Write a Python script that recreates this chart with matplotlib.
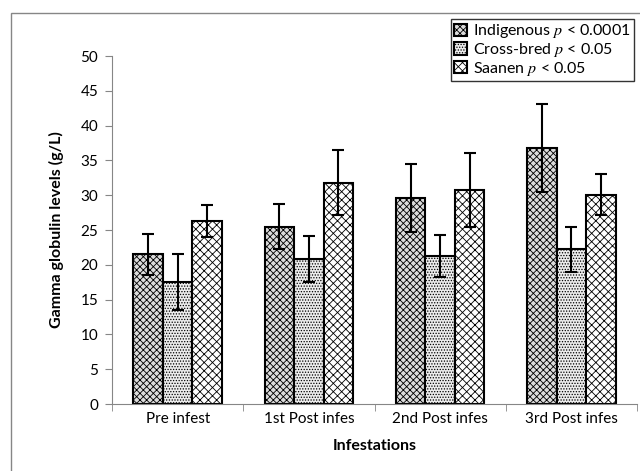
import matplotlib.pyplot as plt
import numpy as np
from matplotlib.patches import Rectangle

plt.rcParams["font.family"] = ["Lato", "DejaVu Sans"]
plt.rcParams["mathtext.fontset"] = "stix"
plt.rcParams["hatch.linewidth"] = 0.6

categories = ["Pre infest", "1st Post infes", "2nd Post infes", "3rd Post infes"]
series = ["Indigenous", "Cross-bred", "Saanen"]
p_values = ["0.0001", "0.05", "0.05"]

indigenous = [21.5, 25.5, 29.6, 36.8]
indigenous_err = [2.9, 3.2, 4.9, 6.3]
crossbred = [17.5, 20.8, 21.3, 22.2]
crossbred_err = [4.0, 3.3, 3.0, 3.2]
saanen = [26.3, 31.8, 30.7, 30.1]
saanen_err = [2.3, 4.7, 5.3, 2.9]

values = [indigenous, crossbred, saanen]
errors = [indigenous_err, crossbred_err, saanen_err]
hatches = ["xxxxx", "......", "xxxx"]
fills = ["#dcdcdc", "#ececec", "white"]


def plot_bars():
    fig = plt.figure(figsize=(6.4, 4.71), dpi=100)
    ax = fig.add_axes([112 / 640, 1 - 404 / 471, 525 / 640, 348 / 471])

    # outer chart frame
    fig.patches.append(Rectangle((11 / 640, -0.1), 1.2, 1.1 - 13 / 471,
                                 transform=fig.transFigure, fill=False,
                                 edgecolor="#868686", linewidth=1.0))

    x = np.arange(len(categories))
    width = 0.225
    for i, (vals, errs) in enumerate(zip(values, errors)):
        ax.bar(x + (i - 1) * width, vals, width, yerr=errs, color=fills[i],
               edgecolor="black", linewidth=1.5, hatch=hatches[i],
               error_kw=dict(ecolor="black", elinewidth=1.5, capsize=4, capthick=1.5),
               label=f"{series[i]} $p$ < {p_values[i]}", zorder=2)

    ax.set_xlim(-0.5, len(categories) - 0.5)
    ax.set_ylim(0, 50)
    ax.set_yticks(range(0, 51, 5))
    ax.set_xticks(x)
    ax.set_xticklabels(categories)
    ax.set_xticks(np.arange(-0.5, len(categories), 1.0), minor=True)
    ax.tick_params(axis="x", which="major", length=0, labelsize=11, pad=6)
    ax.tick_params(axis="x", which="minor", length=5, color="#868686", direction="out")
    ax.tick_params(axis="y", length=5, color="#868686", labelsize=11, pad=5)

    for side in ["top", "right"]:
        ax.spines[side].set_visible(False)
    for side in ["left", "bottom"]:
        ax.spines[side].set_color("#868686")

    ax.set_xlabel("Infestations", fontsize=11.5, fontweight="bold", labelpad=9)
    ax.set_ylabel("Gamma globulin levels (g/L)", fontsize=11.5, fontweight="bold", labelpad=12)

    leg = fig.legend(loc="upper left", bbox_to_anchor=(451 / 640, 1 - 19 / 471),
                     fontsize=11.5, frameon=True, fancybox=False, edgecolor="black",
                     handlelength=0.8, handleheight=0.8, handletextpad=0.4,
                     labelspacing=0.05, borderpad=0.2, borderaxespad=0)
    leg.get_frame().set_linewidth(1.0)

    fig.savefig("out.png", dpi=100)


if __name__ == "__main__":
    plot_bars()
